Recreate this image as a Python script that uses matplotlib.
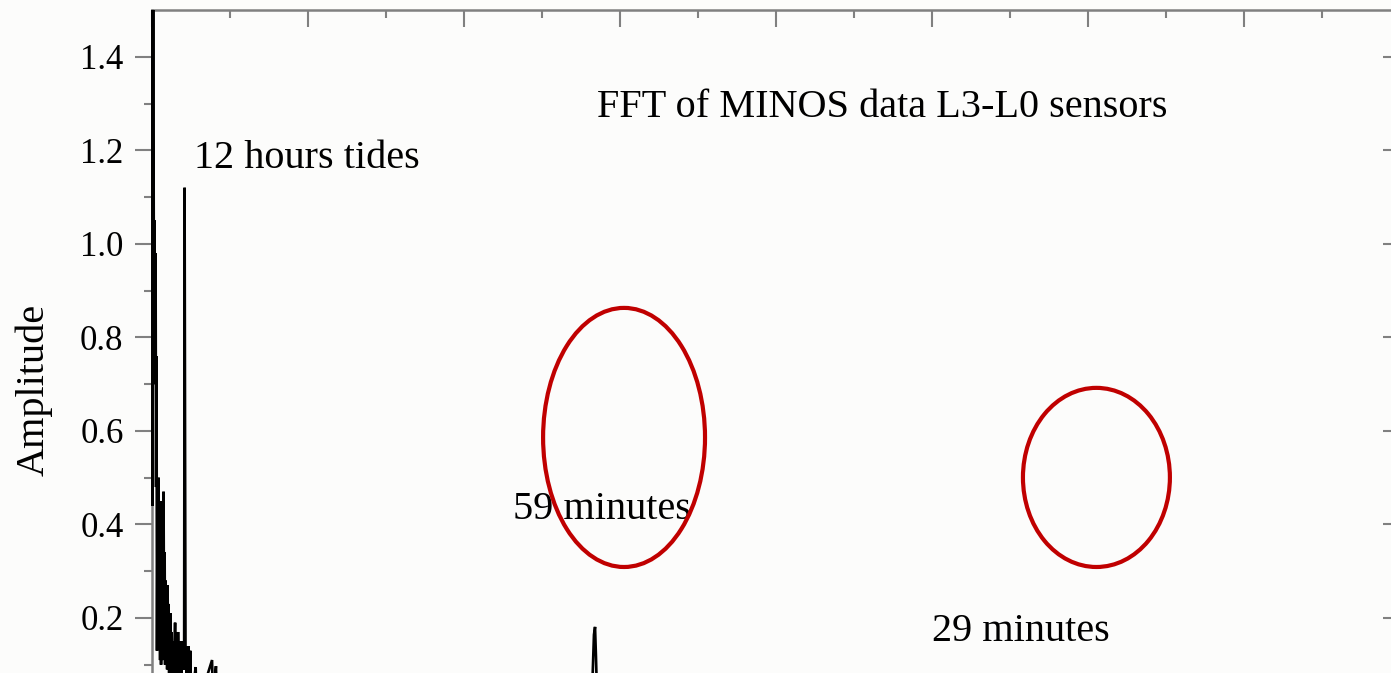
#! /usr/bin/env python
import matplotlib
matplotlib.use('Agg')
import matplotlib.pyplot as plt
from matplotlib.patches import Ellipse
from matplotlib.transforms import Bbox, TransformedBbox

# FFT spectrum, frequency in mHz, amplitude in arbitrary units
freq_mhz = [
	0.0000, 0.0004, 0.0007, 0.0010, 0.0013, 0.0016, 0.0020, 0.0023, 0.0026, 0.0029,
	0.0032, 0.0036, 0.0039, 0.0042, 0.0045, 0.0049, 0.0052, 0.0055, 0.0058, 0.0062,
	0.0065, 0.0068, 0.0071, 0.0074, 0.0078, 0.0081, 0.0084, 0.0087, 0.0090, 0.0094,
	0.0097, 0.0100, 0.0103, 0.0106, 0.0110, 0.0113, 0.0116, 0.0119, 0.0122, 0.0126,
	0.0129, 0.0132, 0.0135, 0.0138, 0.0142, 0.0145, 0.0148, 0.0151, 0.0154, 0.0158,
	0.0161, 0.0164, 0.0167, 0.0171, 0.0174, 0.0177, 0.0180, 0.0183, 0.0186, 0.0190,
	0.0193, 0.0196, 0.0199, 0.0203, 0.0206, 0.0209, 0.0212, 0.0215, 0.0219, 0.0222,
	0.0225, 0.0228, 0.0232, 0.0235, 0.0238, 0.0241, 0.0245, 0.0248, 0.0254, 0.0261,
	0.0267, 0.0280, 0.0284, 0.0300, 0.0320, 0.0385, 0.0390, 0.0410, 0.0415, 0.0500,
	0.0700, 0.1000, 0.1500, 0.2000, 0.2500, 0.2800, 0.2820, 0.2833, 0.2840, 0.2846,
	0.2853, 0.3200, 0.4000, 0.5000, 0.5800, 0.6500, 0.7200, 0.8000,
]
amplitude = [
	3.00, 0.44, 3.00, 1.24, 0.76, 1.05, 0.70, 0.98, 0.48, 0.76,
	0.13, 0.48, 0.18, 0.50, 0.14, 0.30, 0.11, 0.45, 0.10, 0.33,
	0.13, 0.39, 0.11, 0.47, 0.12, 0.34, 0.10, 0.28, 0.11, 0.27,
	0.09, 0.27, 0.12, 0.23, 0.08, 0.19, 0.10, 0.21, 0.07, 0.17,
	0.09, 0.15, 0.06, 0.15, 0.10, 0.14, 0.19, 0.07, 0.17, 0.08,
	0.14, 0.06, 0.17, 0.09, 0.12, 0.07, 0.15, 0.10, 0.13, 0.08,
	0.15, 0.11, 0.09, 0.12, 0.09, 1.12, 0.57, 0.10, 0.14, 0.08,
	0.12, 0.06, 0.14, 0.07, 0.11, 0.05, 0.13, 0.06, 0.08, 0.04,
	0.06, 0.095, 0.03, 0.05, 0.04, 0.11, 0.03, 0.097, 0.03, 0.05,
	0.04, 0.03, 0.04, 0.03, 0.03, 0.03, 0.03, 0.164, 0.181, 0.117,
	0.03, 0.03, 0.02, 0.03, 0.02, 0.03, 0.02, 0.02,
]

y_ticks = [0.2, 0.4, 0.6, 0.8, 1.0, 1.2, 1.4]

# red rings marking the periods searched for: (centre f, centre amp, width, height)
rings = [
	(0.3026, 0.586, 0.1038, 0.554),
	(0.6054, 0.5005, 0.0942, 0.383),
]

# annotations: (text, f, amp at baseline)
notes = [
	('FFT of MINOS data L3-L0 sensors', 0.2853, 1.272),
	('12 hours tides', 0.0269, 1.163),
	('59 minutes', 0.2314, 0.412),
	('29 minutes', 0.5000, 0.151),
]

plt.rcParams['font.family'] = ['Liberation Serif', 'DejaVu Serif']
GREY = '#808080'
BG = '#fcfcfb'

W, H = 1391, 673
fig = plt.figure(figsize=(W / 100, H / 100), dpi=100, facecolor=BG)
# the original frame is cropped: bottom and right edges fall outside the picture
ax = fig.add_axes([152 / W, -38.5 / H, 1248 / W, 701.5 / H])
ax.set_facecolor(BG)

line, = ax.plot(freq_mhz, amplitude, color='k', lw=1.9, solid_joinstyle='miter', zorder=3)
# let the stroke at f=0 show over the left spine instead of being cut in half
line.set_clip_box(TransformedBbox(Bbox([[-0.003, -1], [1, 1]]), ax.transAxes))

for fx, fy, w, h in rings:
	ax.add_patch(Ellipse((fx, fy), w, h, fill=False, edgecolor='#c00000', lw=3.0, zorder=4))

for txt, fx, fy in notes:
	ax.text(fx, fy, txt, fontsize=29, ha='left', va='baseline', zorder=2)

ax.set_xlim(0, 0.8)
ax.set_ylim(0, 1.5)
ax.set_xticks([0.1 * i for i in range(9)])
ax.set_xticks([0.05 + 0.1 * i for i in range(8)], minor=True)
ax.set_yticks(y_ticks)
ax.set_yticks([0.1 + 0.2 * i for i in range(7)], minor=True)
ax.set_yticklabels(['%.1f' % v for v in y_ticks])

for side in ['left', 'top', 'right', 'bottom']:
	ax.spines[side].set_color(GREY)
	ax.spines[side].set_linewidth(1.8)
ax.spines['left'].set_zorder(2.5)

ax.tick_params(axis='x', which='both', top=True, bottom=False, labelbottom=False,
               labeltop=False, direction='in', color=GREY, width=1.5)
ax.tick_params(axis='x', which='major', length=12)
ax.tick_params(axis='x', which='minor', length=6)
ax.tick_params(axis='y', which='both', left=True, right=False, direction='out',
               color=GREY, width=1.5, labelsize=25, pad=8)
ax.tick_params(axis='y', which='major', length=12.5)
ax.tick_params(axis='y', which='minor', length=5.5)

# inward ticks on the right side
rax = ax.secondary_yaxis('right')
rax.set_yticks(y_ticks)
rax.set_yticks([0.1 + 0.2 * i for i in range(7)], minor=True)
rax.tick_params(which='both', direction='in', color=GREY, width=1.5, labelright=False)
rax.tick_params(which='major', length=12.5)
rax.tick_params(which='minor', length=6.5)
rax.spines['right'].set_color(GREY)

ax.set_ylabel('Amplitude', fontsize=29)
ax.yaxis.set_label_coords(-0.080, 0.458)

fig.savefig('out.png', dpi=100, facecolor=BG)
